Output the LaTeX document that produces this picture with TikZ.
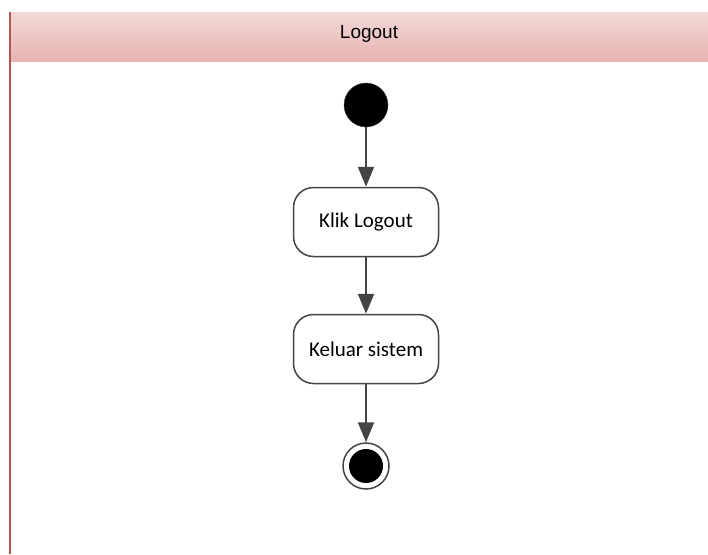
\documentclass[tikz,border=0pt]{standalone}
\usepackage{fontspec}
\setmainfont{Carlito}
\newfontfamily\headfont{Liberation Sans}
\usetikzlibrary{arrows.meta,positioning}
\definecolor{lanered}{HTML}{B85450}
\definecolor{lanetop}{HTML}{F2D9D7}
\definecolor{lanebot}{HTML}{E6B4B0}
\definecolor{edgegray}{HTML}{444444}
\tikzset{
  action/.style    = {draw=edgegray, line width=1.5pt, rounded corners=20pt,
                      minimum width=145pt, minimum height=69pt, align=center,
                      fill=white, font=\fontsize{21}{25}\selectfont},
  startnode/.style = {draw=edgegray, fill=black, circle, inner sep=0pt,
                      minimum size=44pt},
  stopnode/.style  = {draw=edgegray, line width=1.5pt, fill=white, circle,
                      inner sep=0pt, minimum size=46pt,
                      path picture={\fill[black] (path picture bounding box.center)
                      circle (17pt);}},
  flow/.style      = {-{Triangle[length=20pt,width=16pt]}, line width=2pt,
                      draw=edgegray},
}
\begin{document}
\begin{tikzpicture}[x=1pt, y=-1pt]
\useasboundingbox (0,0) rectangle (708,554);
% ---------- swimlane ----------
\shade[top color=lanetop, bottom color=lanebot] (10,12) rectangle (708,61);
\node[font=\headfont\fontsize{19}{22}\selectfont] (lane) at (369,34) {Logout};
\draw[lanered, line width=2pt] (10,12) -- (10,554);
% ---------- activity ----------
\node[startnode] (start) at (366,105) {};
\node[action] (klik) at (366,222) {Klik Logout};
\node[action] (keluar) at (366,349) {Keluar sistem};
\node[stopnode] (stop) at (366,466) {};
\draw[flow] (start) -- (klik);
\draw[flow] (klik) -- (keluar);
\draw[flow] (keluar) -- (stop);
\end{tikzpicture}
\end{document}
